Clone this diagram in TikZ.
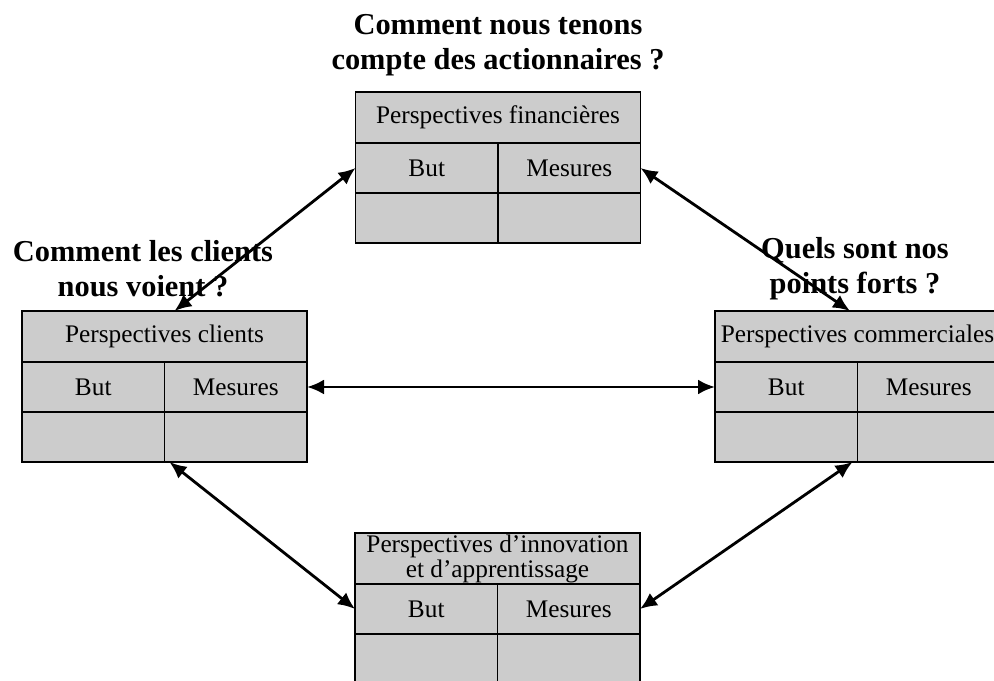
\documentclass[tikz,border=0pt]{standalone}
\usepackage{fontspec}
\setmainfont{Liberation Serif}
\usetikzlibrary{arrows.meta, positioning, calc}

\begin{document}
\begin{tikzpicture}[
  titlecell/.style={rectangle, draw, line width=1.1pt, fill=black!20, align=center, inner sep=0pt, outer sep=0pt, minimum width=5.7cm, minimum height=1.02cm, font=\fontsize{14.4}{14.2}\selectfont},
  cell/.style={rectangle, draw, line width=1.1pt, fill=black!20, inner sep=0pt, outer sep=0pt, minimum width=2.85cm, minimum height=1.0cm, font=\fontsize{14.4}{14.2}\selectfont},
  question/.style={align=center, font=\fontsize{17.3}{20}\selectfont\bfseries},
  biarr/.style={draw, {Latex[length=3.4mm, width=3mm]}-{Latex[length=3.4mm, width=3mm]}, line width=1.6pt}
]
\useasboundingbox (0,0) rectangle (19.88,13.62);

% financial
\node[titlecell, anchor=north] (fin) at (9.96,11.78) {Perspectives financières};
\node[cell, anchor=north west] (finbut) at (fin.south west) {But};
\node[cell, anchor=north east] (finmes) at (fin.south east) {Mesures};
\node[cell, below=0pt of finbut] (finbutx) {};
\node[cell, below=0pt of finmes] (finmesx) {};

% clients
\node[titlecell, anchor=north] (cli) at (3.29,7.40) {Perspectives clients};
\node[cell, anchor=north west] (clibut) at (cli.south west) {But};
\node[cell, anchor=north east] (climes) at (cli.south east) {Mesures};
\node[cell, below=0pt of clibut] (clibutx) {};
\node[cell, below=0pt of climes] (climesx) {};

% commercial
\node[titlecell, anchor=north] (com) at (17.15,7.40) {Perspectives commerciales};
\node[cell, anchor=north west] (combut) at (com.south west) {But};
\node[cell, anchor=north east] (commes) at (com.south east) {Mesures};
\node[cell, below=0pt of combut] (combutx) {};
\node[cell, below=0pt of commes] (commesx) {};

% innovation
\node[titlecell, anchor=north] (inn) at (9.95,2.96) {Perspectives d’innovation\\et d’apprentissage};
\node[cell, anchor=north west] (innbut) at (inn.south west) {But};
\node[cell, anchor=north east] (innmes) at (inn.south east) {Mesures};
\node[cell, below=0pt of innbut] (innbutx) {};
\node[cell, below=0pt of innmes] (innmesx) {};

% questions
\node[question] (qfin) at (9.96,12.72) {Comment nous tenons\\compte des actionnaires ?};
\node[question] (qcli) at (2.86,8.24) {Comment les clients\\nous voient ?};
\node[question] (qcom) at (17.1,8.24) {Quels sont nos\\points forts ?};

\draw[biarr] (finbut.west) -- ([xshift=0.2cm]cli.north);
\draw[biarr] (finmes.east) -- ([xshift=-0.15cm]com.north);
\draw[biarr] (climes.east) -- (combut.west);
\draw[biarr] ([xshift=0.1cm]clibutx.south east) -- (innbut.west);
\draw[biarr] ([xshift=-0.1cm]combutx.south east) -- (innmes.east);
\end{tikzpicture}
\end{document}
